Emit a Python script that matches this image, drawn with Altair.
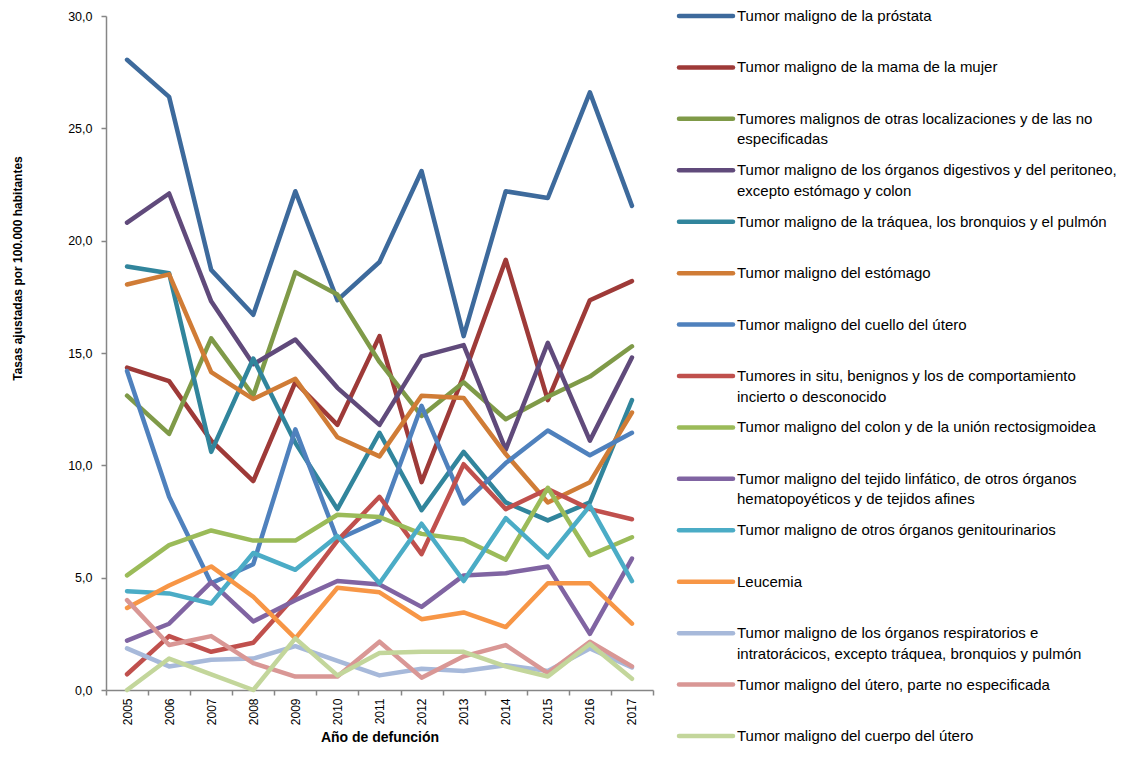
import altair as alt
import pandas as pd

years = list(range(2005, 2018))

series = [
    "Tumor maligno de la próstata",
    "Tumor maligno de la mama de la mujer",
    "Tumores malignos de otras localizaciones y de las no especificadas",
    "Tumor maligno de los órganos digestivos y del peritoneo, excepto estómago y colon",
    "Tumor maligno de la tráquea, los bronquios y el pulmón",
    "Tumor maligno del estómago",
    "Tumor maligno del cuello del útero",
    "Tumores in situ, benignos y los de comportamiento incierto o desconocido",
    "Tumor maligno del colon y de la unión rectosigmoidea",
    "Tumor maligno del tejido linfático, de otros órganos hematopoyéticos y de tejidos afines",
    "Tumor maligno de otros órganos genitourinarios",
    "Leucemia",
    "Tumor maligno de los órganos respiratorios e intratorácicos, excepto tráquea, bronquios y pulmón",
    "Tumor maligno del útero, parte no especificada",
    "Tumor maligno del cuerpo del útero",
]

legend_labels = [
    "Tumor maligno de la próstata",
    "Tumor maligno de la mama de la mujer",
    "Tumores malignos de otras localizaciones y de las no\nespecificadas",
    "Tumor maligno de los órganos digestivos y del peritoneo,\nexcepto estómago y colon",
    "Tumor maligno de la tráquea, los bronquios y el pulmón",
    "Tumor maligno del estómago",
    "Tumor maligno del cuello del útero",
    "Tumores in situ, benignos y los de comportamiento\nincierto o desconocido",
    "Tumor maligno del colon y de la unión rectosigmoidea",
    "Tumor maligno del tejido linfático, de otros órganos\nhematopoyéticos y de tejidos afines",
    "Tumor maligno de otros órganos genitourinarios",
    "Leucemia",
    "Tumor maligno de los órganos respiratorios e\nintratorácicos, excepto tráquea, bronquios y pulmón",
    "Tumor maligno del útero, parte no especificada",
    "Tumor maligno del cuerpo del útero",
]

colors = [
    "#3D6A9C", "#9E3A38", "#7F9A48", "#604A7B", "#31859C",
    "#D07C36", "#4F81BD", "#C0504D", "#9BBB59", "#8064A2",
    "#4BACC6", "#F79646", "#A7B9DA", "#D99795", "#C3D69B",
]

prostata = [28.05, 26.4, 18.7, 16.7, 22.2, 17.35, 19.05, 23.1, 15.75, 22.2, 21.9, 26.6, 21.55]
mama = [14.35, 13.75, 11.1, 9.3, 13.7, 11.8, 15.75, 9.25, 14.0, 19.15, 12.9, 17.35, 18.2]
otras_loc = [13.1, 11.4, 15.65, 13.1, 18.6, 17.6, 14.6, 12.2, 13.7, 12.05, 13.05, 13.95, 15.3]
digestivos = [20.8, 22.1, 17.3, 14.5, 15.6, 13.45, 11.8, 14.85, 15.35, 10.7, 15.45, 11.1, 14.8]
pulmon = [18.85, 18.55, 10.6, 14.75, 11.0, 8.05, 11.45, 8.0, 10.6, 8.35, 7.55, 8.35, 12.9]
estomago = [18.05, 18.5, 14.15, 12.95, 13.85, 11.25, 10.4, 13.1, 13.0, 10.5, 8.35, 9.25, 12.35]
cuello_utero = [14.2, 8.6, 4.75, 5.6, 11.6, 6.7, 7.55, 12.65, 8.3, 10.1, 11.55, 10.45, 11.45]
in_situ = [0.7, 2.4, 1.7, 2.1, 4.2, 6.65, 8.6, 6.05, 10.05, 8.05, 8.95, 8.05, 7.6]
colon = [5.1, 6.45, 7.1, 6.65, 6.65, 7.8, 7.7, 6.95, 6.7, 5.8, 9.0, 6.0, 6.8]
linfatico = [2.2, 2.95, 4.8, 3.05, 4.0, 4.85, 4.7, 3.7, 5.1, 5.2, 5.5, 2.5, 5.85]
genitourinarios = [4.4, 4.3, 3.85, 6.1, 5.35, 6.85, 4.75, 7.4, 4.85, 7.65, 5.9, 8.2, 4.85]
leucemia = [3.65, 4.65, 5.5, 4.15, 2.3, 4.55, 4.35, 3.15, 3.45, 2.8, 4.75, 4.75, 2.95]
respiratorios = [1.85, 1.05, 1.35, 1.4, 1.95, 1.3, 0.65, 0.95, 0.85, 1.1, 0.85, 1.85, 1.0]
utero_no_esp = [4.0, 2.0, 2.4, 1.2, 0.6, 0.6, 2.15, 0.55, 1.5, 2.0, 0.75, 2.15, 1.05]
cuerpo_utero = [0.0, 1.4, 0.7, 0.0, 2.3, 0.65, 1.65, 1.7, 1.7, 1.05, 0.6, 2.05, 0.5]

all_values = [prostata, mama, otras_loc, digestivos, pulmon, estomago, cuello_utero,
              in_situ, colon, linfatico, genitourinarios, leucemia, respiratorios,
              utero_no_esp, cuerpo_utero]

rows = []
for name, vals in zip(series, all_values):
    for yr, v in zip(years, vals):
        rows.append({"series": name, "year": yr, "value": v})
df = pd.DataFrame(rows)

FONT = "Liberation Sans, Arial, sans-serif"
AXIS_COLOR = "#868686"

color_scale = alt.Scale(domain=series, range=colors)

lines = alt.Chart(df).mark_line(
    strokeWidth=4.5, strokeCap="round", strokeJoin="round"
).encode(
    x=alt.X(
        "year:O",
        title="Año de defunción",
        bandPosition=0.5,
        scale=alt.Scale(type="band", paddingInner=0, paddingOuter=0),
        axis=alt.Axis(
            labelAngle=-90, tickBand="extent", labelFont=FONT, labelFontSize=12,
            labelColor="#000000", labelPadding=3, tickSize=5,
            titleFont=FONT, titleFontSize=14, titleFontWeight="bold",
            titleColor="#000000", titlePadding=6,
            domainColor=AXIS_COLOR, tickColor=AXIS_COLOR,
            domainWidth=1.5, tickWidth=1.5, grid=False,
        ),
    ),
    y=alt.Y(
        "value:Q",
        title="Tasas ajustadas por 100.000 habitantes",
        scale=alt.Scale(domain=[0, 30], nice=False, zero=True),
        axis=alt.Axis(
            values=[0, 5, 10, 15, 20, 25, 30],
            labelExpr="replace(format(datum.value, '.1f'), '.', ',')",
            labelFont=FONT, labelFontSize=12.5, labelColor="#000000",
            labelPadding=9, tickSize=5,
            titleFont=FONT, titleFontSize=12, titleFontWeight="bold",
            titleColor="#000000", titleX=-89, titleY=252,
            titleAlign="center", titleBaseline="middle",
            domainColor=AXIS_COLOR, tickColor=AXIS_COLOR,
            domainWidth=1.5, tickWidth=1.5, grid=False,
        ),
    ),
    color=alt.Color("series:N", scale=color_scale, legend=None),
).properties(width=547, height=674)

leg_df = pd.DataFrame({"series": series, "label": legend_labels, "idx": list(range(len(series)))})
leg_base = alt.Chart(leg_df).encode(
    y=alt.Y("idx:Q", scale=alt.Scale(domain=[0, 14], reverse=True, nice=False, zero=False), axis=None)
)
swatches = leg_base.mark_rule(strokeWidth=4.5, strokeCap="round").encode(
    x=alt.value(3), x2=alt.value(57),
    color=alt.Color("series:N", scale=color_scale, legend=None),
)
texts = leg_base.mark_text(
    align="left", baseline="middle", font=FONT, fontSize=15,
    lineBreak="\n", lineHeight=20.5, color="#000000",
).encode(x=alt.value(61), text="label:N")
legend = (swatches + texts).properties(width=380, height=720)

chart = alt.hconcat(lines, legend, spacing=22).properties(
    padding={"left": 3, "top": 1, "right": 0, "bottom": 0}
).configure_view(stroke=None)

chart.save("out.html", embed_options={"renderer": "svg", "actions": False})
